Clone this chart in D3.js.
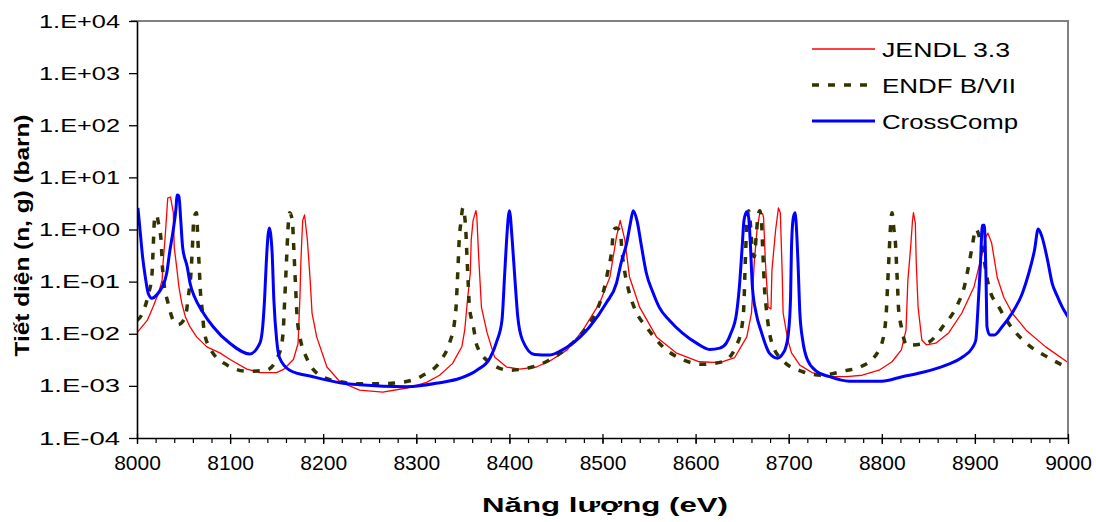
<!DOCTYPE html>
<html>
<head>
<meta charset="utf-8">
<script src="https://cdn.jsdelivr.net/npm/d3@7"></script>
<style>
body { margin: 0; background: white; }
text { font-family: "Liberation Sans", Arial, sans-serif; }
</style>
</head>
<body>
<script>
// energy (eV), cross section (barn)
const jendl = [
    [8000, 0.0105], [8011, 0.018], [8017, 0.032], [8023, 0.06], [8027, 0.107], [8028, 0.23],
    [8030, 0.63], [8032, 2.1], [8033, 4.0], [8036, 4.2], [8039, 2.1], [8040, 0.46],
    [8043, 0.166], [8045, 0.079], [8048, 0.039], [8052, 0.021], [8057, 0.0135], [8064, 0.0087],
    [8075, 0.0056], [8089, 0.0043], [8100, 0.0032], [8118, 0.0021], [8132, 0.0018], [8150, 0.0018],
    [8158, 0.0021], [8163, 0.0026], [8168, 0.0032], [8173, 0.0065], [8174, 0.018], [8175, 0.05],
    [8176, 0.23], [8177, 0.63], [8178, 1.5], [8180, 1.9], [8183, 0.63], [8186, 0.107],
    [8188, 0.025], [8193, 0.0087], [8204, 0.0023], [8218, 0.0012], [8239, 0.00083], [8264, 0.00076],
    [8290, 0.00091], [8311, 0.00117], [8325, 0.0016], [8339, 0.0027], [8349, 0.0057], [8352, 0.0117],
    [8355, 0.045], [8358, 0.148], [8359, 0.63], [8361, 1.5], [8364, 2.3], [8365, 1.8],
    [8367, 0.3], [8370, 0.032], [8376, 0.0105], [8384, 0.0036], [8397, 0.0023], [8411, 0.0021],
    [8429, 0.0023], [8446, 0.0032], [8462, 0.0049], [8479, 0.0117], [8497, 0.039], [8508, 0.123],
    [8515, 0.72], [8519, 1.5], [8524, 0.63], [8529, 0.123], [8540, 0.032], [8558, 0.0087],
    [8579, 0.0043], [8604, 0.0029], [8626, 0.0028], [8642, 0.0035], [8655, 0.0087], [8660, 0.025],
    [8663, 0.23], [8666, 1.0], [8669, 2.1], [8672, 2.0], [8673, 1.7], [8675, 0.23],
    [8678, 0.032], [8681, 0.03], [8682, 0.166], [8686, 1.0], [8689, 2.6], [8691, 2.1],
    [8693, 0.148], [8694, 0.025], [8699, 0.0076], [8703, 0.0043], [8712, 0.0025], [8725, 0.0018],
    [8744, 0.0015], [8762, 0.0015], [8779, 0.0016], [8797, 0.0020], [8811, 0.0029], [8821, 0.0049],
    [8826, 0.0117], [8828, 0.107], [8831, 0.46], [8833, 1.5], [8834, 2.1], [8836, 1.33],
    [8837, 0.23], [8839, 0.032], [8843, 0.0076], [8848, 0.0061], [8858, 0.0066], [8872, 0.0105],
    [8886, 0.025], [8899, 0.079], [8907, 0.3], [8912, 0.73], [8914, 0.85], [8918, 0.55],
    [8924, 0.12], [8931, 0.05], [8940, 0.025], [8955, 0.0117], [8976, 0.0056], [9000, 0.0028]
]

const endf = [
    [8000, 0.018], [8005, 0.023], [8012, 0.055], [8016, 0.13], [8017, 0.30], [8019, 1.66],
    [8021, 1.9], [8023, 1.33], [8026, 0.58], [8027, 0.24], [8029, 0.093], [8033, 0.041],
    [8039, 0.018], [8044, 0.015], [8052, 0.021], [8055, 0.05], [8058, 0.148], [8059, 0.30],
    [8060, 0.7], [8061, 1.6], [8064, 2.1], [8065, 0.9], [8066, 0.38], [8067, 0.166],
    [8068, 0.069], [8070, 0.029], [8072, 0.0117], [8078, 0.0054], [8097, 0.0025], [8119, 0.0019],
    [8139, 0.0020], [8153, 0.0043], [8157, 0.0107], [8158, 0.025], [8159, 0.06], [8160, 0.148],
    [8161, 0.36], [8162, 0.9], [8164, 2.1], [8167, 1.4], [8168, 0.63], [8169, 0.26],
    [8170, 0.107], [8172, 0.021], [8175, 0.0087], [8182, 0.0035], [8199, 0.0015], [8218, 0.0012],
    [8239, 0.0011], [8263, 0.0011], [8284, 0.00117], [8306, 0.00155], [8327, 0.0032], [8336, 0.0069],
    [8341, 0.0166], [8343, 0.039], [8344, 0.093], [8345, 0.23], [8346, 0.6], [8348, 1.4],
    [8350, 2.6], [8353, 1.1], [8354, 0.45], [8355, 0.18], [8356, 0.075], [8357, 0.033],
    [8361, 0.0148], [8365, 0.006], [8379, 0.0028], [8400, 0.0020], [8420, 0.0022], [8441, 0.0030],
    [8465, 0.006], [8483, 0.0135], [8495, 0.031], [8502, 0.076], [8506, 0.166], [8510, 0.41],
    [8512, 1.0], [8515, 1.07], [8519, 0.93], [8521, 0.37], [8524, 0.15], [8528, 0.069],
    [8535, 0.029], [8548, 0.0129], [8565, 0.0056], [8586, 0.0032], [8607, 0.0026], [8629, 0.0029],
    [8644, 0.006], [8650, 0.0148], [8652, 0.04], [8653, 0.15], [8654, 0.5], [8655, 1.3],
    [8657, 2.3], [8659, 1.2], [8661, 0.4], [8663, 0.3], [8665, 0.7], [8667, 1.8],
    [8669, 2.3], [8671, 1.2], [8672, 0.45], [8673, 0.18], [8674, 0.075], [8676, 0.03],
    [8678, 0.0148], [8682, 0.0066], [8695, 0.0029], [8714, 0.0019], [8736, 0.0016], [8757, 0.0019],
    [8779, 0.0024], [8797, 0.0049], [8803, 0.0117], [8805, 0.029], [8806, 0.069], [8807, 0.166],
    [8808, 0.38], [8809, 0.9], [8811, 2.1], [8813, 1.0], [8815, 0.44], [8816, 0.18],
    [8817, 0.075], [8818, 0.03], [8821, 0.0135], [8827, 0.006], [8848, 0.0066], [8867, 0.0148],
    [8881, 0.035], [8889, 0.085], [8893, 0.19], [8897, 0.46], [8901, 1.02], [8908, 0.4],
    [8915, 0.079], [8926, 0.032], [8939, 0.0135], [8958, 0.006], [8980, 0.0034], [9000, 0.0022]
]

const crossComp = [
    [8001, 2.6], [8003, 1.1], [8006, 0.3], [8009, 0.12], [8012, 0.06], [8016, 0.048],
    [8021, 0.055], [8027, 0.079], [8032, 0.148], [8035, 0.36], [8039, 1.0], [8042, 2.7],
    [8043, 4.6], [8045, 4.4], [8047, 1.5], [8049, 0.46], [8054, 0.19], [8057, 0.093],
    [8062, 0.05], [8070, 0.027], [8082, 0.0135], [8100, 0.0065], [8121, 0.0041], [8132, 0.0066],
    [8135, 0.0135], [8137, 0.045], [8139, 0.26], [8142, 1.07], [8145, 0.4], [8147, 0.045],
    [8150, 0.0076], [8153, 0.0035], [8164, 0.0020], [8189, 0.0015], [8218, 0.00115], [8239, 0.00105],
    [8290, 0.00096], [8325, 0.00115], [8347, 0.0014], [8365, 0.0020], [8379, 0.0034], [8387, 0.0076],
    [8392, 0.018], [8395, 0.148], [8397, 0.63], [8400, 2.3], [8403, 0.63], [8406, 0.107],
    [8409, 0.021], [8414, 0.0076], [8427, 0.0040], [8443, 0.0039], [8454, 0.0046], [8465, 0.006],
    [8486, 0.0135], [8504, 0.039], [8515, 0.093], [8520, 0.23], [8526, 0.55], [8530, 1.33],
    [8533, 2.3], [8537, 1.5], [8542, 0.46], [8547, 0.148], [8554, 0.063], [8561, 0.032],
    [8572, 0.018], [8586, 0.0103], [8601, 0.0066], [8615, 0.0050], [8626, 0.0053], [8633, 0.0066],
    [8638, 0.0103], [8644, 0.025], [8647, 0.079], [8650, 0.46], [8652, 1.5], [8655, 2.2],
    [8657, 1.7], [8659, 0.46], [8661, 0.079], [8665, 0.025], [8671, 0.0103], [8676, 0.0056],
    [8679, 0.0043], [8688, 0.0034], [8693, 0.0040], [8697, 0.0056], [8700, 0.0117], [8702, 0.05],
    [8703, 0.46], [8705, 1.7], [8707, 2.1], [8708, 1.33], [8710, 0.23], [8712, 0.025],
    [8715, 0.0076], [8720, 0.0032], [8730, 0.0019], [8744, 0.0015], [8765, 0.00123], [8800, 0.00123],
    [8822, 0.0015], [8843, 0.0018], [8869, 0.0025], [8886, 0.0035], [8897, 0.0053], [8901, 0.0076],
    [8903, 0.025], [8906, 0.23], [8908, 1.2], [8910, 1.2], [8912, 0.107], [8913, 0.0135],
    [8916, 0.0095], [8921, 0.0095], [8929, 0.0135], [8940, 0.025], [8951, 0.06], [8958, 0.148],
    [8964, 0.4], [8968, 1.02], [8972, 0.73], [8978, 0.26], [8983, 0.093], [8988, 0.055],
    [8994, 0.032], [9000, 0.021]
]

const seriesNames = ["JENDL 3.3", "ENDF B/VII", "CrossComp"]
const yTicks = [1e-4, 1e-3, 1e-2, 1e-1, 1e0, 1e1, 1e2, 1e3, 1e4]
const xTicks = [8000, 8100, 8200, 8300, 8400, 8500, 8600, 8700, 8800, 8900, 9000]

function setCanvas(w, h) {
    return d3.select("body")
        .append("svg")
            .attr("width", w)
            .attr("height", h)
}

function expLabel(v) {
    const e = Math.round(Math.log10(v))
    return "1.E" + (e < 0 ? "-" : "+") + String(Math.abs(e)).padStart(2, "0")
}

function drawAxes(svg, x, y, a) {
    const [x0, x1] = x.range()
    const [y0, y1] = y.range()

    // grey frame on top and right
    svg.append("path")
        .attr("d", `M${x0 - 6},${y1}H${x1}V${y0}`)
        .attr("fill", "none")
        .attr("stroke", a.frame)
        .attr("stroke-width", 2)

    const ya = svg.append("g")
        .attr("transform", `translate(${x0},0)`)
        .call(d3.axisLeft(y).tickValues(yTicks).tickFormat(expLabel).tickSize(8).tickSizeOuter(0))
    ya.select(".domain").attr("stroke-width", 1.6)
    ya.selectAll(".tick line").attr("stroke-width", 1.3)
    ya.selectAll("text")
        .attr("x", -17)
        .attr("font-size", 19)
        .attr("textLength", 81)
        .attr("lengthAdjust", "spacingAndGlyphs")
        .attr("fill", "#000")

    // minor ticks every 20 eV
    svg.append("g")
        .attr("transform", `translate(0,${y0})`)
        .call(d3.axisBottom(x).tickValues(d3.range(8000, 9001, 20)).tickFormat("").tickSize(5).tickSizeOuter(0))
        .call(g => g.select(".domain").remove())
        .selectAll("line").attr("stroke-width", 1.2)

    const xa = svg.append("g")
        .attr("transform", `translate(0,${y0})`)
        .call(d3.axisBottom(x).tickValues(xTicks).tickFormat(d3.format("d")).tickSize(6).tickSizeOuter(0))
    xa.select(".domain").attr("stroke-width", 1.6)
    xa.selectAll(".tick line").attr("y1", -4).attr("stroke-width", 1.3)
    xa.selectAll("text")
        .attr("y", 17)
        .attr("font-size", 21)
        .attr("fill", "#000")

    svg.append("text")
        .attr("transform", `translate(22,${(y0 + y1) / 2 + 6}) rotate(-90)`)
        .attr("text-anchor", "middle")
        .attr("dy", "0.35em")
        .attr("font-size", 20)
        .attr("font-weight", "bold")
        .attr("textLength", 242)
        .attr("lengthAdjust", "spacingAndGlyphs")
        .text("Tiết diện (n, g) (barn)")

    svg.append("text")
        .attr("x", 605)
        .attr("y", 512)
        .attr("text-anchor", "middle")
        .attr("font-size", 21)
        .attr("font-weight", "bold")
        .attr("textLength", 246)
        .attr("lengthAdjust", "spacingAndGlyphs")
        .text("Năng lượng (eV)")
}

function drawSeries(svg, x, y, data, s) {
    const line = d3.line()
        .curve(s.curve)
        .x(d => x(d[0]))
        .y(d => y(d[1]))
    svg.append("path")
        .datum(data)
        .attr("clip-path", "url(#plot)")
        .attr("fill", "none")
        .attr("stroke", s.stroke)
        .attr("stroke-width", s.width)
        .attr("stroke-dasharray", s.dash)
        .attr("stroke-linejoin", "round")
        .attr("d", line)
}

function drawLegend(svg, styles) {
    const g = svg.append("g").attr("transform", "translate(812,49)")
    const row = g.selectAll("g")
        .data(seriesNames)
        .join("g")
            .attr("transform", (d, i) => `translate(0,${i * 36})`)
    row.append("line")
        .attr("x2", 63)
        .attr("stroke", (d, i) => styles[i].stroke)
        .attr("stroke-width", (d, i) => styles[i].width)
        .attr("stroke-dasharray", (d, i) => styles[i].dash)
    row.append("text")
        .attr("x", 70)
        .attr("dy", "0.36em")
        .attr("font-size", 21)
        .attr("textLength", (d, i) => [128, 134, 136][i])
        .attr("lengthAdjust", "spacingAndGlyphs")
        .text(d => d)
}

function draw() {
    const w = 1096, h = 522
    const m = {top: 21, right: 28, bottom: 84, left: 137}
    const c = {
        red:   "#FF0000",
        olive: "#333300",
        blue:  "#0000FF",
        frame: "#808080",
    }
    const styles = [
        {stroke: c.red,   width: 1.3, dash: null,  curve: d3.curveLinear},
        {stroke: c.olive, width: 3.5, dash: "7,9", curve: d3.curveMonotoneX},
        {stroke: c.blue,  width: 3,   dash: null,  curve: d3.curveMonotoneX},
    ]

    const x = d3.scaleLinear().domain([8000, 9000]).range([m.left, w - m.right])
    const y = d3.scaleLog().domain([1e-4, 1e4]).range([h - m.bottom, m.top])

    const svg = setCanvas(w, h)
    svg.append("clipPath").attr("id", "plot")
        .append("rect")
            .attr("x", m.left).attr("y", m.top)
            .attr("width", w - m.left - m.right)
            .attr("height", h - m.top - m.bottom)

    drawSeries(svg, x, y, jendl, styles[0])
    drawSeries(svg, x, y, endf, styles[1])
    drawSeries(svg, x, y, crossComp, styles[2])
    drawAxes(svg, x, y, c)
    drawLegend(svg, styles)
}

draw()
</script>
</body>
</html>
